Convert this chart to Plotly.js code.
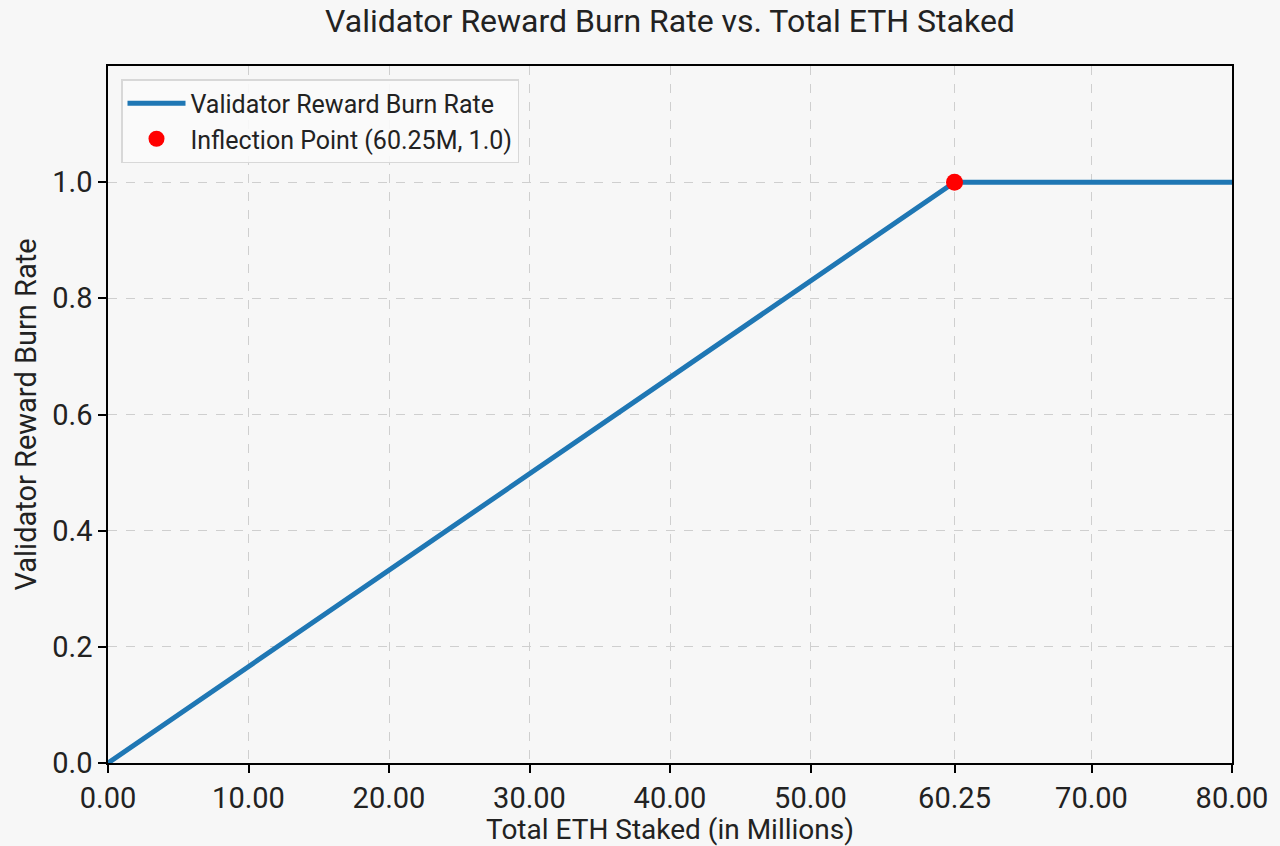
<!DOCTYPE html>
<html>
<head>
<meta charset="utf-8">
<script src="https://cdn.plot.ly/plotly-3.0.1.min.js"></script>
<style>
  html, body { margin: 0; padding: 0; background: #f7f7f7; }
  #chart { width: 1280px; height: 846px; }
</style>
</head>
<body>
<div id="chart"></div>
<script>
const stakedMillions = [0, 60.25, 80];
const burnRate = [0, 1.0, 1.0];
const inflectionX = [60.25];
const inflectionY = [1.0];
const xTickVals = [0, 10, 20, 30, 40, 50, 60.25, 70, 80];
const xTickText = ["0.00", "10.00", "20.00", "30.00", "40.00", "50.00", "60.25", "70.00", "80.00"];
const yTickVals = [0, 0.2, 0.4, 0.6, 0.8, 1.0];

const FONT = "Roboto, 'Open Sans', sans-serif";
const INK = "#222";

const axisCommon = {
  showline: true,
  linecolor: "#000",
  linewidth: 1.5,
  mirror: true,
  ticks: "outside",
  ticklen: 8,
  tickwidth: 1.5,
  tickcolor: "#000",
  showgrid: true,
  gridcolor: "#cfcfcf",
  griddash: "dash",
  gridwidth: 1.2,
  zeroline: false,
  tickfont: { family: FONT, size: 29, color: INK },
};

Plotly.newPlot(
  "chart",
  [
    {
      x: stakedMillions,
      y: burnRate,
      type: "scatter",
      mode: "lines",
      name: "Validator Reward Burn Rate",
      line: { color: "#1f77b4", width: 5 },
    },
    {
      x: inflectionX,
      y: inflectionY,
      type: "scatter",
      mode: "markers",
      name: "Inflection Point (60.25M, 1.0)",
      marker: { color: "#ff0000", size: 17 },
    },
  ],
  {
    width: 1280,
    height: 846,
    paper_bgcolor: "#f7f7f7",
    plot_bgcolor: "#f7f7f7",
    margin: { l: 108, r: 48, t: 66, b: 83, pad: 0 },
    title: {
      text: "Validator Reward Burn Rate vs. Total ETH Staked",
      font: { family: FONT, size: 32, color: INK },
      x: (108 + 1232) / 2 / 1280,
      xanchor: "center",
      y: 1 - 21 / 846,
      yanchor: "middle",
    },
    xaxis: {
      ...axisCommon,
      range: [0, 80],
      tickmode: "array",
      tickvals: xTickVals,
      ticktext: xTickText,
      title: { text: "Total ETH Staked (in Millions)", font: { family: FONT, size: 28, color: INK }, standoff: 6 },
    },
    yaxis: {
      ...axisCommon,
      range: [0, 1.2],
      tickmode: "array",
      tickvals: yTickVals,
      tickformat: ".1f",
      title: { text: "Validator Reward Burn Rate", font: { family: FONT, size: 29, color: INK }, standoff: 7 },
    },
    showlegend: true,
    legend: {
      x: (121 - 108) / 1124,
      y: 1 - (79 - 66) / 697,
      xanchor: "left",
      yanchor: "top",
      bgcolor: "rgba(250,250,250,0.9)",
      bordercolor: "#d8d8d8",
      borderwidth: 1.5,
      font: { family: FONT, size: 25, color: INK },
      itemwidth: 58,
      tracegroupgap: 2,
    },
  },
  { displayModeBar: false }
);
</script>
</body>
</html>
